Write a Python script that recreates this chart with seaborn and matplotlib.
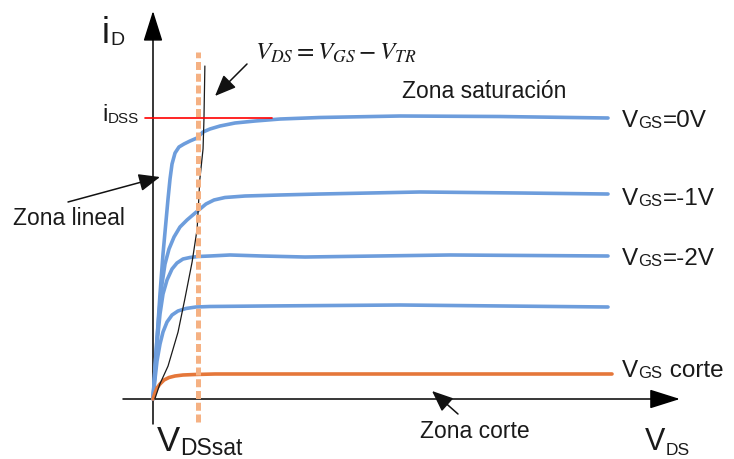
import numpy as np
import pandas as pd
import matplotlib
matplotlib.use("Agg")
import matplotlib.pyplot as plt
import seaborn as sns

sns.set_theme(style="white")
plt.rcParams["font.family"] = ["Liberation Sans", "DejaVu Sans"]
plt.rcParams["mathtext.fontset"] = "stix"

# JFET output characteristics: V_DS in volts, I_D in mA
vds_0 = [0, 0.044, 0.088, 0.154, 0.220, 0.286, 0.330, 0.374, 0.418, 0.484, 0.571, 0.681,
         0.813, 0.967, 1.099, 1.253, 1.473, 1.802, 2.242, 2.791, 3.670, 5.429, 7.626, 10.0]
id_0 = [0, 1.068, 2.135, 3.737, 5.160, 6.335, 7.117, 7.829, 8.363, 8.754, 8.968, 9.075,
        9.181, 9.288, 9.502, 9.609, 9.715, 9.822, 9.893, 9.964, 10.018, 10.071, 10.053, 10.0]

vds_1 = [0, 0.044, 0.088, 0.132, 0.198, 0.264, 0.352, 0.462, 0.593, 0.747, 0.901, 1.033,
         1.165, 1.341, 1.582, 2.022, 2.791, 3.670, 5.868, 8.066, 10.0]
id_1 = [0, 1.068, 2.135, 3.025, 4.093, 4.804, 5.338, 5.765, 6.121, 6.370, 6.584, 6.762,
        6.940, 7.082, 7.171, 7.224, 7.260, 7.295, 7.367, 7.331, 7.295]

vds_2 = [0, 0.044, 0.088, 0.154, 0.220, 0.308, 0.418, 0.527, 0.659, 0.813, 0.989, 1.253,
         1.692, 2.396, 3.341, 6.527, 10.0]
id_2 = [0, 0.890, 1.957, 3.025, 3.737, 4.235, 4.626, 4.840, 4.982, 5.036, 5.071, 5.089,
        5.125, 5.089, 5.053, 5.125, 5.089]

vds_3 = [0, 0.044, 0.088, 0.154, 0.220, 0.308, 0.418, 0.549, 0.725, 0.945, 1.253, 2.462,
         5.429, 10.0]
id_3 = [0, 0.712, 1.352, 1.957, 2.384, 2.740, 2.989, 3.132, 3.221, 3.274, 3.292, 3.310,
        3.345, 3.274]

vds_off = [0, 0.044, 0.088, 0.154, 0.242, 0.352, 0.484, 0.659, 0.923, 1.363, 5.429, 10.088]
id_off = [0, 0.214, 0.391, 0.534, 0.676, 0.765, 0.819, 0.854, 0.872, 0.890, 0.890, 0.890]

# boundary V_DS = V_GS - V_TR between ohmic and saturation regions
vds_sat_locus = [0.04, 0.15, 0.33, 0.55, 0.70, 0.86, 0.97, 1.03, 1.10, 1.12, 1.14]
id_sat_locus = [0, 0.53, 1.17, 2.38, 3.56, 4.88, 6.05, 7.83, 8.90, 9.96, 11.85]

I_DSS = 10.0
V_DSSAT = 0.99

curve_names = ["VGS=0V", "VGS=-1V", "VGS=-2V", "VGS=-3V", "VGS corte"]
curve_x = [vds_0, vds_1, vds_2, vds_3, vds_off]
curve_y = [id_0, id_1, id_2, id_3, id_off]

BLUE = "#6d9ddc"
ORANGE = "#e5773a"

frames = []
for name, xs, ys in zip(curve_names, curve_x, curve_y):
    frames.append(pd.DataFrame({"vds": xs, "id": ys, "curve": name}))
df = pd.concat(frames, ignore_index=True)
palette = {n: BLUE for n in curve_names[:-1]}
palette["VGS corte"] = ORANGE

fig = plt.figure(figsize=(7.34, 4.60), dpi=100)
ax = fig.add_axes([0, 0, 1, 1])
ax.set_xlim(-3.3626, 12.7692)
ax.set_ylim(-2.1352, 14.2349)
ax.axis("off")

sns.lineplot(data=df, x="vds", y="id", hue="curve", palette=palette, units="curve",
             estimator=None, sort=False, legend=False, lw=2.6, ax=ax, zorder=3,
             solid_joinstyle="round", solid_capstyle="round")

# saturation boundary
sns.lineplot(x=vds_sat_locus, y=id_sat_locus, sort=False, estimator=None,
             color="#1a1a1a", lw=0.9, ax=ax, zorder=4)

# I_DSS level
ax.plot([-0.176, 2.615], [I_DSS, I_DSS], color="#ff0000", lw=1.2, zorder=5)

# V_DSsat marker
ax.plot([V_DSSAT, V_DSSAT], [-0.82, 12.35], color="#f5b183", lw=3.6,
        ls=(0, (1.6, 0.75)), zorder=6, solid_capstyle="butt", dash_capstyle="butt")

# axes with arrow heads
axis_arrow = dict(arrowstyle="-|>,head_length=0.95,head_width=0.3", color="black",
                  lw=1.1, shrinkA=0, shrinkB=0, mutation_scale=20)
ax.annotate("", xy=(0, 13.81), xytext=(0, -0.89), arrowprops=axis_arrow, zorder=2)
ax.annotate("", xy=(11.58, 0), xytext=(-0.66, 0), arrowprops=axis_arrow, zorder=2)

pointer = dict(arrowstyle="-|>,head_length=0.65,head_width=0.27", color="#111111",
               lw=1.1, shrinkA=0, shrinkB=0, mutation_scale=20)
ax.annotate("", xy=(1.363, 10.783), xytext=(2.066, 11.922), arrowprops=pointer)
ax.annotate("", xy=(0.154, 7.90), xytext=(-1.868, 7.011), arrowprops=pointer)
ax.annotate("", xy=(6.132, 0.285), xytext=(6.703, -0.534), arrowprops=pointer)

TXT = "#1a1a1a"


def sub_label(x, y, base, sub, size, subsize, y_sub, tail=None):
    t = ax.text(x, y, base, fontsize=size, ha="left", va="baseline", color=TXT)
    s = ax.annotate(sub, xy=(1.0, y_sub), xycoords=(t, "data"), xytext=(0.3, 0),
                    textcoords="offset points", fontsize=subsize, ha="left",
                    va="baseline", color=TXT)
    if tail:
        ax.annotate(tail, xy=(1.0, y), xycoords=(s, "data"), xytext=(0.3, 0),
                    textcoords="offset points", fontsize=size, ha="left",
                    va="baseline", color=TXT)


sub_label(-1.121, 12.705, "i", "D", 26, 14, 12.633)
sub_label(-1.121, 9.929, "i", "DSS", 17, 11, 9.858)
sub_label(0.088, -1.80, "V", "DSsat", 25, 16.5, -1.96)
sub_label(10.813, -1.779, "V", "DS", 22, 12.5, -1.94)
sub_label(10.308, 9.715, "V", "GS", 17.5, 12, 9.68, "=0V")
sub_label(10.308, 6.940, "V", "GS", 17.5, 12, 6.904, "=-1V")
sub_label(10.308, 4.804, "V", "GS", 17.5, 12, 4.769, "=-2V")
sub_label(10.308, 0.819, "V", "GS", 17.5, 12, 0.783, " corte")

ax.text(5.473, 10.747, "Zona saturación", fontsize=16.5, ha="left", va="baseline", color=TXT)
ax.text(-3.077, 6.228, "Zona lineal", fontsize=16.5, ha="left", va="baseline", color=TXT)
ax.text(5.868, -1.352, "Zona corte", fontsize=16.5, ha="left", va="baseline", color=TXT)
ax.text(2.242, 12.10, r"$V_{DS}=V_{GS}-V_{TR}$", fontsize=18, ha="left", va="baseline",
        color=TXT)

fig.savefig("out.png", dpi=100)
